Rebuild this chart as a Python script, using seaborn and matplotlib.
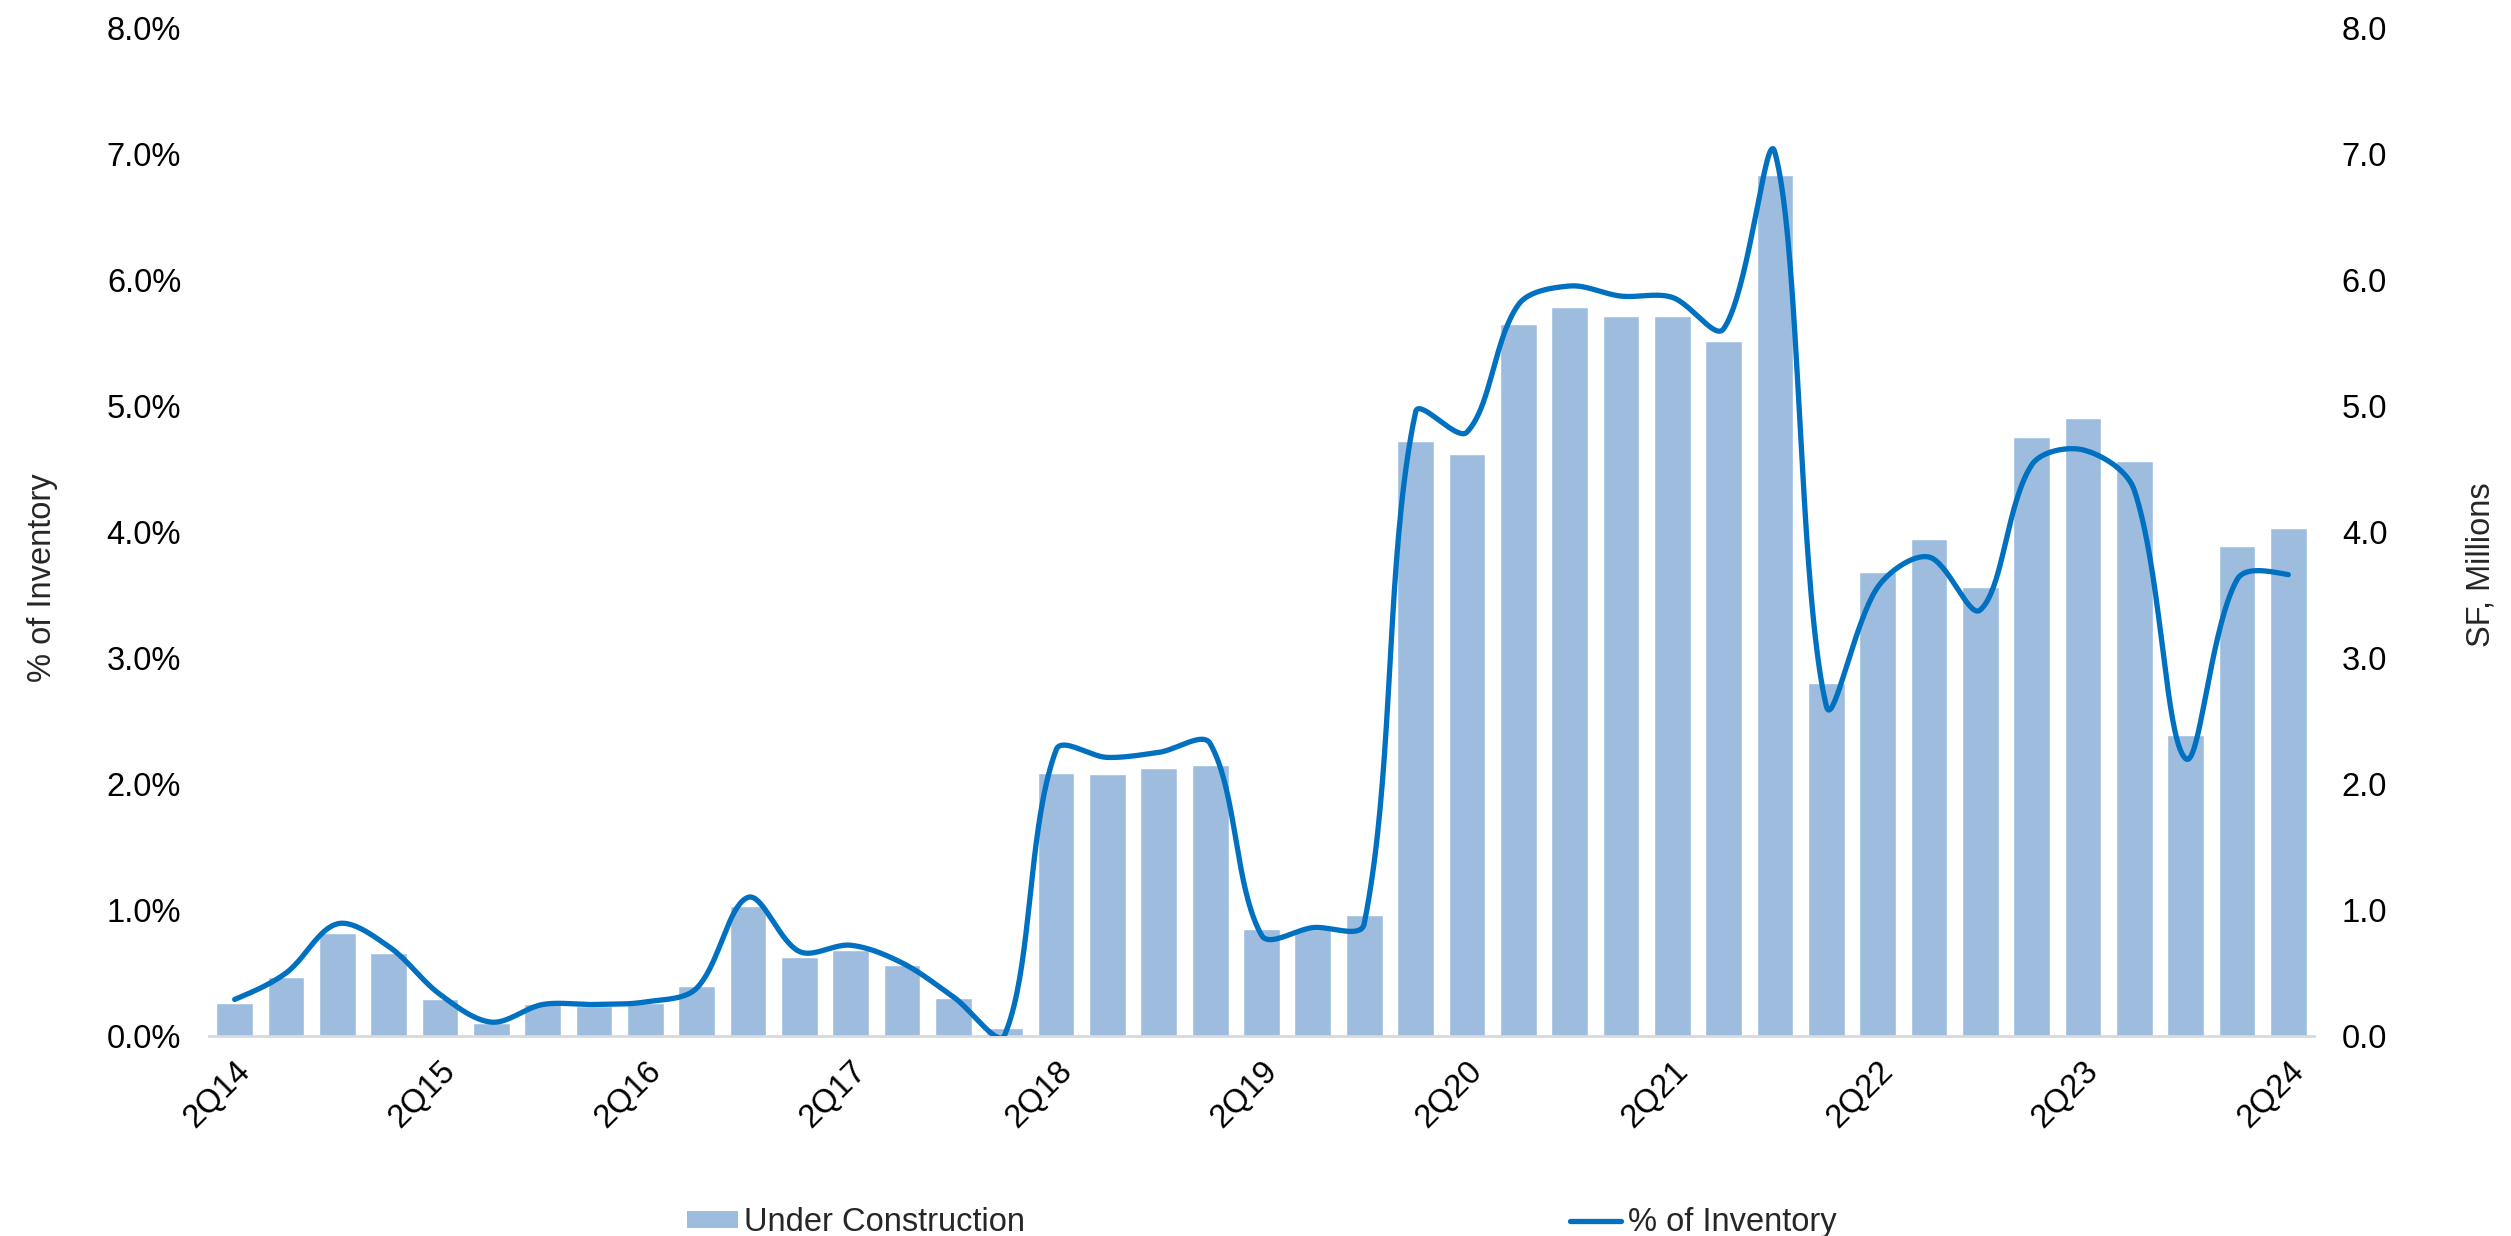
import matplotlib
matplotlib.use("Agg")
import matplotlib.pyplot as plt
from matplotlib.patches import Patch
from matplotlib.lines import Line2D
from matplotlib.ticker import FuncFormatter
import numpy as np
import pandas as pd
import seaborn as sns

quarters = [f"{q}Q{y:02d}" for y in range(14, 25) for q in (1, 2, 3, 4)]
quarters = quarters[1:42]  # 2Q14 .. 2Q24

under_construction = [0.26, 0.47, 0.82, 0.66, 0.29, 0.10, 0.25, 0.24, 0.26, 0.40,
                      1.03, 0.63, 0.68, 0.56, 0.30, 0.06, 2.09, 2.08, 2.13, 2.15,
                      0.85, 0.85, 0.96, 4.72, 4.62, 5.65, 5.78, 5.71, 5.71, 5.51,
                      6.83, 2.80, 3.68, 3.94, 3.56, 4.75, 4.90, 4.56, 2.39, 3.89, 4.03]

pct_inventory = [0.29, 0.50, 0.89, 0.71, 0.33, 0.11, 0.25, 0.25, 0.27, 0.38,
                 1.10, 0.67, 0.72, 0.58, 0.31, 0.01, 2.27, 2.21, 2.25, 2.32,
                 0.80, 0.86, 0.89, 4.95, 4.79, 5.80, 5.95, 5.87, 5.86, 5.61,
                 7.01, 2.62, 3.56, 3.80, 3.38, 4.53, 4.65, 4.33, 2.20, 3.62, 3.66]

bar_color = "#9DBCDE"
line_color = "#0070C0"
FS = 23.5
LW = 3.8

df = pd.DataFrame({"Quarter": quarters, "UC": under_construction, "Pct": pct_inventory})


def smooth(y, sx=51.3, sy=125.9, n=40, f=1/3):
    # spreadsheet-like smoothed line: bezier segments, control points scaled
    # by neighbouring segment lengths (worked out in screen pixels)
    P = np.column_stack([np.arange(len(y)) * sx, np.asarray(y, float) * sy])
    k = len(P)
    c_in = np.zeros_like(P)
    c_out = np.zeros_like(P)
    for i in range(1, k - 1):
        d1 = np.linalg.norm(P[i] - P[i - 1])
        d2 = np.linalg.norm(P[i + 1] - P[i])
        T = P[i + 1] - P[i - 1]
        c_in[i] = P[i] - T * f * d1 / (d1 + d2)
        c_out[i] = P[i] + T * f * d2 / (d1 + d2)
    c_out[0] = P[0] + (c_in[1] - P[0]) / 2
    c_in[-1] = P[-1] + (c_out[-2] - P[-1]) / 2
    t = np.linspace(0, 1, n)[:, None]
    pts = []
    for i in range(k - 1):
        seg = ((1 - t) ** 3 * P[i] + 3 * (1 - t) ** 2 * t * c_out[i]
               + 3 * (1 - t) * t ** 2 * c_in[i + 1] + t ** 3 * P[i + 1])
        pts.append(seg if i == 0 else seg[1:])
    pts = np.vstack(pts)
    return pts[:, 0] / sx, pts[:, 1] / sy


sns.set_style("white")
plt.rcParams["font.family"] = ["Liberation Sans", "DejaVu Sans"]

fig = plt.figure(figsize=(25.11, 12.36), dpi=100)
ax = fig.add_axes([209 / 2511, 1 - 1036 / 1236, 2105 / 2511, (1036 - 27.6) / 1236])

sns.barplot(data=df, x="Quarter", y="UC", color=bar_color, saturation=1,
            width=0.715, ax=ax)
ax.set_ylim(0, 8)
ax.set_xlim(-0.5, len(quarters) - 0.5)

ax2 = ax.twinx()
lx, ly = smooth(pct_inventory)
ax2.plot(lx, ly, color=line_color, lw=LW, solid_capstyle="round")
ax2.set_ylim(0, 8)

# bars belong to the right axis, the line to the left one
ax.yaxis.tick_right()
ax.yaxis.set_label_position("right")
ax2.yaxis.tick_left()
ax2.yaxis.set_label_position("left")

ticks = np.arange(0, 8.01, 1)
ax.set_yticks(ticks)
ax2.set_yticks(ticks)
ax.yaxis.set_major_formatter(FuncFormatter(lambda v, p: f"{v:.1f}"))
ax2.yaxis.set_major_formatter(FuncFormatter(lambda v, p: f"{v:.1f}%"))

ax.set_xticks(range(0, len(quarters), 4))
ax.set_xticklabels(quarters[::4], rotation=45, ha="right", rotation_mode="anchor")

for a in (ax, ax2):
    a.tick_params(axis="both", length=0, labelsize=FS, colors="black")
    for s in a.spines.values():
        s.set_visible(False)
ax.tick_params(axis="y", pad=20)
ax2.tick_params(axis="y", pad=20)
ax.tick_params(axis="x", pad=14)
ax.spines["bottom"].set_visible(True)
ax.spines["bottom"].set_color("#D9D9D9")
ax.spines["bottom"].set_linewidth(2)

ax.set_xlabel("")
ax.set_ylabel("SF, Millions", fontsize=FS)
ax2.set_ylabel("% of Inventory", fontsize=FS)
ax.yaxis.set_label_coords(1.072, 0.467)
ax2.yaxis.set_label_coords(-0.0717, 0.454)

handles = [Patch(facecolor=bar_color, edgecolor="none"),
           Line2D([0], [0], color=line_color, lw=LW)]
fig.legend(handles, ["Under Construction", "% of Inventory"], ncol=2,
           loc="center", bbox_to_anchor=(0.5025, 0.011), frameon=False,
           fontsize=FS, handlelength=1.56, handleheight=0.45, handletextpad=0.2,
           columnspacing=16.7, borderpad=0)

fig.savefig("out.png", dpi=100)
plt.close(fig)
